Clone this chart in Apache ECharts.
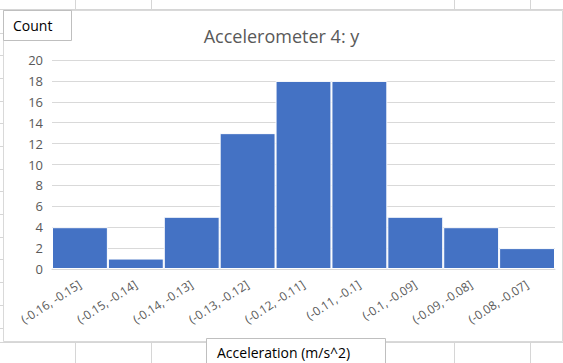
<!DOCTYPE html>
<html>
<head>
<meta charset="utf-8">
<script src="https://cdn.jsdelivr.net/npm/echarts@6/dist/echarts.min.js"></script>
<style>
html,body{margin:0;padding:0;background:#fff;}
#c{width:563px;height:363px;}
</style>
</head>
<body>
<div id="c"></div>
<script>
var categories = ["(-0.16, -0.15]", "(-0.15, -0.14]", "(-0.14, -0.13]", "(-0.13, -0.12]", "(-0.12, -0.11]", "(-0.11, -0.1]", "(-0.1, -0.09]", "(-0.09, -0.08]", "(-0.08, -0.07]"];
var counts = [4, 1, 5, 13, 18, 18, 5, 4, 2];
var yTicks = [0, 2, 4, 6, 8, 10, 12, 14, 16, 18, 20];
var titleText = "Accelerometer 4: y";
var yTitle = "Count";
var xTitle = "Acceleration (m/s^2)";

var FONT = "'Open Sans', sans-serif";
var cellLine = "#d6d6d6";

// spreadsheet cell lines (background decoration)
var bg = [];
function vline(x, y1, y2) {
  bg.push({type: 'line', shape: {x1: x, y1: y1, x2: x, y2: y2}, style: {stroke: cellLine, lineWidth: 1}, silent: true, z: -10});
}
function hline(y, x1, x2) {
  bg.push({type: 'line', shape: {x1: x1, y1: y, x2: x2, y2: y}, style: {stroke: cellLine, lineWidth: 1}, silent: true, z: -10});
}
[75.5, 151.5, 454.5, 530.5].forEach(function (x) { vline(x, 0, 10); vline(x, 342, 363); });
hline(9.5, 0, 563);
hline(342.5, 0, 563);
for (var y = 32.5; y < 342; y += 22.7) { hline(Math.round(y) + 0.5, 0, 3); }

var chart = echarts.init(document.getElementById('c'), null, {renderer: 'svg'});
chart.setOption({
  animation: false,
  backgroundColor: '#ffffff',
  title: {
    text: titleText,
    left: 'center',
    top: 22,
    textStyle: {fontFamily: FONT, fontSize: 18, fontWeight: 'normal', color: '#595959'}
  },
  grid: {left: 52, right: 8, top: 60, bottom: 94, containLabel: false},
  xAxis: {
    type: 'category',
    data: categories,
    axisLine: {show: true, lineStyle: {color: '#d9d9d9'}},
    axisTick: {show: false},
    axisLabel: {interval: 0, rotate: 33, fontFamily: FONT, fontSize: 12, color: '#595959', margin: 14}
  },
  yAxis: {
    type: 'value',
    min: yTicks[0],
    max: yTicks[yTicks.length - 1],
    interval: yTicks[1] - yTicks[0],
    axisLine: {show: false},
    axisTick: {show: false},
    splitLine: {lineStyle: {color: '#d9d9d9', width: 1}},
    axisLabel: {fontFamily: FONT, fontSize: 13, color: '#595959', margin: 9}
  },
  series: [{
    type: 'bar',
    data: counts,
    barCategoryGap: '0%',
    itemStyle: {color: '#4472C4', borderColor: '#ffffff', borderWidth: 1}
  }],
  graphic: bg.concat([
    {type: 'rect', shape: {x: 3.5, y: 10.5, width: 68, height: 30}, style: {fill: '#ffffff', stroke: '#bfbfbf', lineWidth: 1}, z: 10},
    {type: 'text', left: 13, top: 18, style: {text: yTitle, fontFamily: FONT, fontSize: 14, fill: '#000000'}, z: 11},
    {type: 'rect', shape: {x: 3.5, y: 10.5, width: 559, height: 331}, style: {fill: 'none', stroke: '#d9d9d9', lineWidth: 1}, silent: true, z: -5},
    {type: 'rect', shape: {x: 206.5, y: 338.5, width: 179, height: 30}, style: {fill: '#ffffff', stroke: '#bfbfbf', lineWidth: 1}, z: 10},
    {type: 'text', left: 217, top: 345, style: {text: xTitle, fontFamily: FONT, fontSize: 14, fill: '#000000'}, z: 11}
  ])
});
</script>
</body>
</html>
